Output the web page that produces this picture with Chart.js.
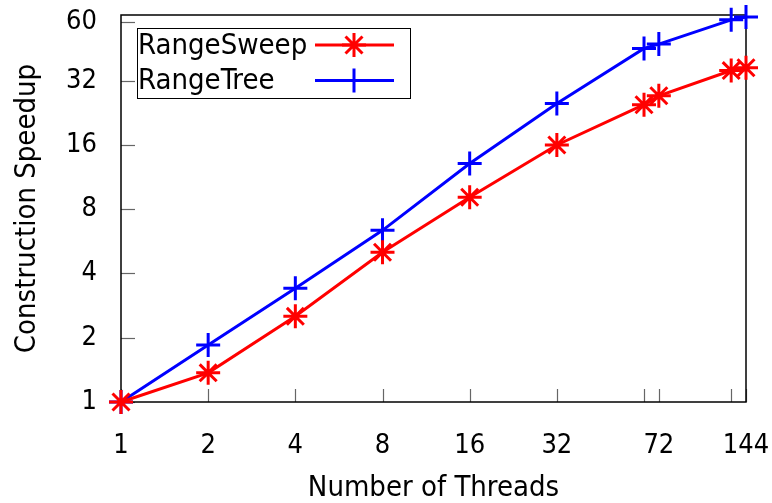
<!DOCTYPE html>
<html>
<head>
<meta charset="utf-8">
<script src="https://cdn.jsdelivr.net/npm/chart.js@4"></script>
<style>
  html, body { margin: 0; padding: 0; background: #fff; }
  #wrap { width: 772px; height: 503px; }
</style>
</head>
<body>
<div id="wrap"><canvas id="speedupChart" width="772" height="503"></canvas></div>
<script>
// dados
const threads = [1, 2, 4, 8, 16, 32, 64, 72, 128, 144];
const rangeSweep = [1, 1.37, 2.52, 5.03, 9.1, 16, 24.7, 27.2, 35.7, 36.8];
const rangeTree = [1, 1.85, 3.41, 6.37, 13.1, 25, 45.3, 47.5, 61.7, 63.6];
const xTicks = [1, 2, 4, 8, 16, 32, 64, 72, 128, 144];
const xTickLabels = ["1", "2", "4", "8", "16", "32", "", "72", "", "144"];
const yTicks = [1, 2, 4, 8, 16, 32, 60];

const FONT = "'DejaVu Sans Condensed', 'DejaVu Sans', sans-serif";

function pontos(ys) {
    return threads.map((x, i) => ({ x: x, y: ys[i] }));
}

/* moldura, marcas internas e legenda ao estilo gnuplot */
const molduraPlugin = {
    id: "moldura",
    beforeDatasetsDraw(chart) {
        const { ctx, chartArea: a, scales } = chart;
        ctx.save();
        ctx.strokeStyle = "#666";
        ctx.lineWidth = 1.2;
        xTicks.forEach(v => {
            const px = Math.round(scales.x.getPixelForValue(v)) + 0.5;
            ctx.beginPath();
            ctx.moveTo(px, a.bottom);
            ctx.lineTo(px, a.bottom - 13);
            ctx.stroke();
        });
        yTicks.forEach(v => {
            const py = Math.round(scales.y.getPixelForValue(v)) + 0.5;
            ctx.beginPath();
            ctx.moveTo(a.left, py);
            ctx.lineTo(a.left + 14, py);
            ctx.stroke();
        });
        ctx.strokeStyle = "#000";
        ctx.lineWidth = 1.5;
        ctx.strokeRect(a.left, a.top, a.right - a.left, a.bottom - a.top);
        ctx.restore();
    },
    afterDraw(chart) {
        const { ctx } = chart;
        const bx = 137, by = 28, bw = 273, bh = 70;
        ctx.save();
        ctx.fillStyle = "#fff";
        ctx.fillRect(bx, by, bw, bh);
        ctx.strokeStyle = "#000";
        ctx.lineWidth = 1;
        ctx.strokeRect(bx + 0.5, by + 0.5, bw, bh);
        chart.data.datasets.forEach((ds, i) => {
            const cy = by + 17 + i * 35.5;
            ctx.fillStyle = "#000";
            ctx.font = "29px " + FONT;
            ctx.textBaseline = "middle";
            ctx.textAlign = "left";
            ctx.fillText(ds.label, bx + 1, cy + 1);
            ctx.strokeStyle = ds.borderColor;
            ctx.lineWidth = 3;
            ctx.beginPath();
            ctx.moveTo(315, cy);
            ctx.lineTo(394, cy);
            ctx.stroke();
            Chart.helpers.drawPoint(ctx, {
                pointStyle: ds.pointStyle,
                radius: ds.pointRadius,
                borderWidth: 3
            }, 354, cy);
        });
        ctx.restore();
    }
};

new Chart(document.getElementById("speedupChart"), {
    type: "line",
    data: {
        datasets: [
            {
                label: "RangeSweep",
                data: pontos(rangeSweep),
                borderColor: "#ff0000",
                backgroundColor: "#ff0000",
                borderWidth: 3,
                pointStyle: "star",
                pointRadius: 12,
                pointBorderWidth: 3,
                pointHoverRadius: 12,
                clip: false
            },
            {
                label: "RangeTree",
                data: pontos(rangeTree),
                borderColor: "#0000ff",
                backgroundColor: "#0000ff",
                borderWidth: 3,
                pointStyle: "cross",
                pointRadius: 12,
                pointBorderWidth: 3,
                pointHoverRadius: 12,
                clip: false
            }
        ]
    },
    options: {
        responsive: false,
        animation: false,
        layout: { padding: { top: 14, right: 26, left: 10, bottom: 0 } },
        plugins: {
            legend: { display: false },
            tooltip: { enabled: false }
        },
        scales: {
            x: {
                type: "logarithmic",
                min: 1,
                max: 144,
                grid: { display: false },
                border: { display: false },
                afterBuildTicks: s => { s.ticks = xTicks.map(v => ({ value: v })); },
                afterFit: s => { s.height = 101; s.paddingLeft = 0; s.paddingRight = 0; },
                ticks: {
                    color: "#000",
                    padding: 20,
                    maxRotation: 0,
                    autoSkip: false,
                    font: { family: FONT, size: 27 },
                    callback: (v, i) => xTickLabels[i]
                },
                title: {
                    display: true,
                    text: "Number of Threads",
                    color: "#000",
                    font: { family: FONT, size: 29, lineHeight: 1 },
                    padding: { top: 0, bottom: 0 }
                }
            },
            y: {
                type: "logarithmic",
                min: 1,
                max: 65,
                grid: { display: false },
                border: { display: false },
                afterBuildTicks: s => { s.ticks = yTicks.map(v => ({ value: v })); },
                afterFit: s => { s.width = 111; s.paddingTop = 0; s.paddingBottom = 0; },
                ticks: {
                    color: "#000",
                    padding: 16,
                    autoSkip: false,
                    font: { family: FONT, size: 27 },
                    callback: v => String(v)
                },
                title: {
                    display: true,
                    text: "Construction Speedup",
                    color: "#000",
                    font: { family: FONT, size: 29 },
                    padding: { top: 0, bottom: 0 }
                }
            }
        }
    },
    plugins: [molduraPlugin]
});
</script>
</body>
</html>
